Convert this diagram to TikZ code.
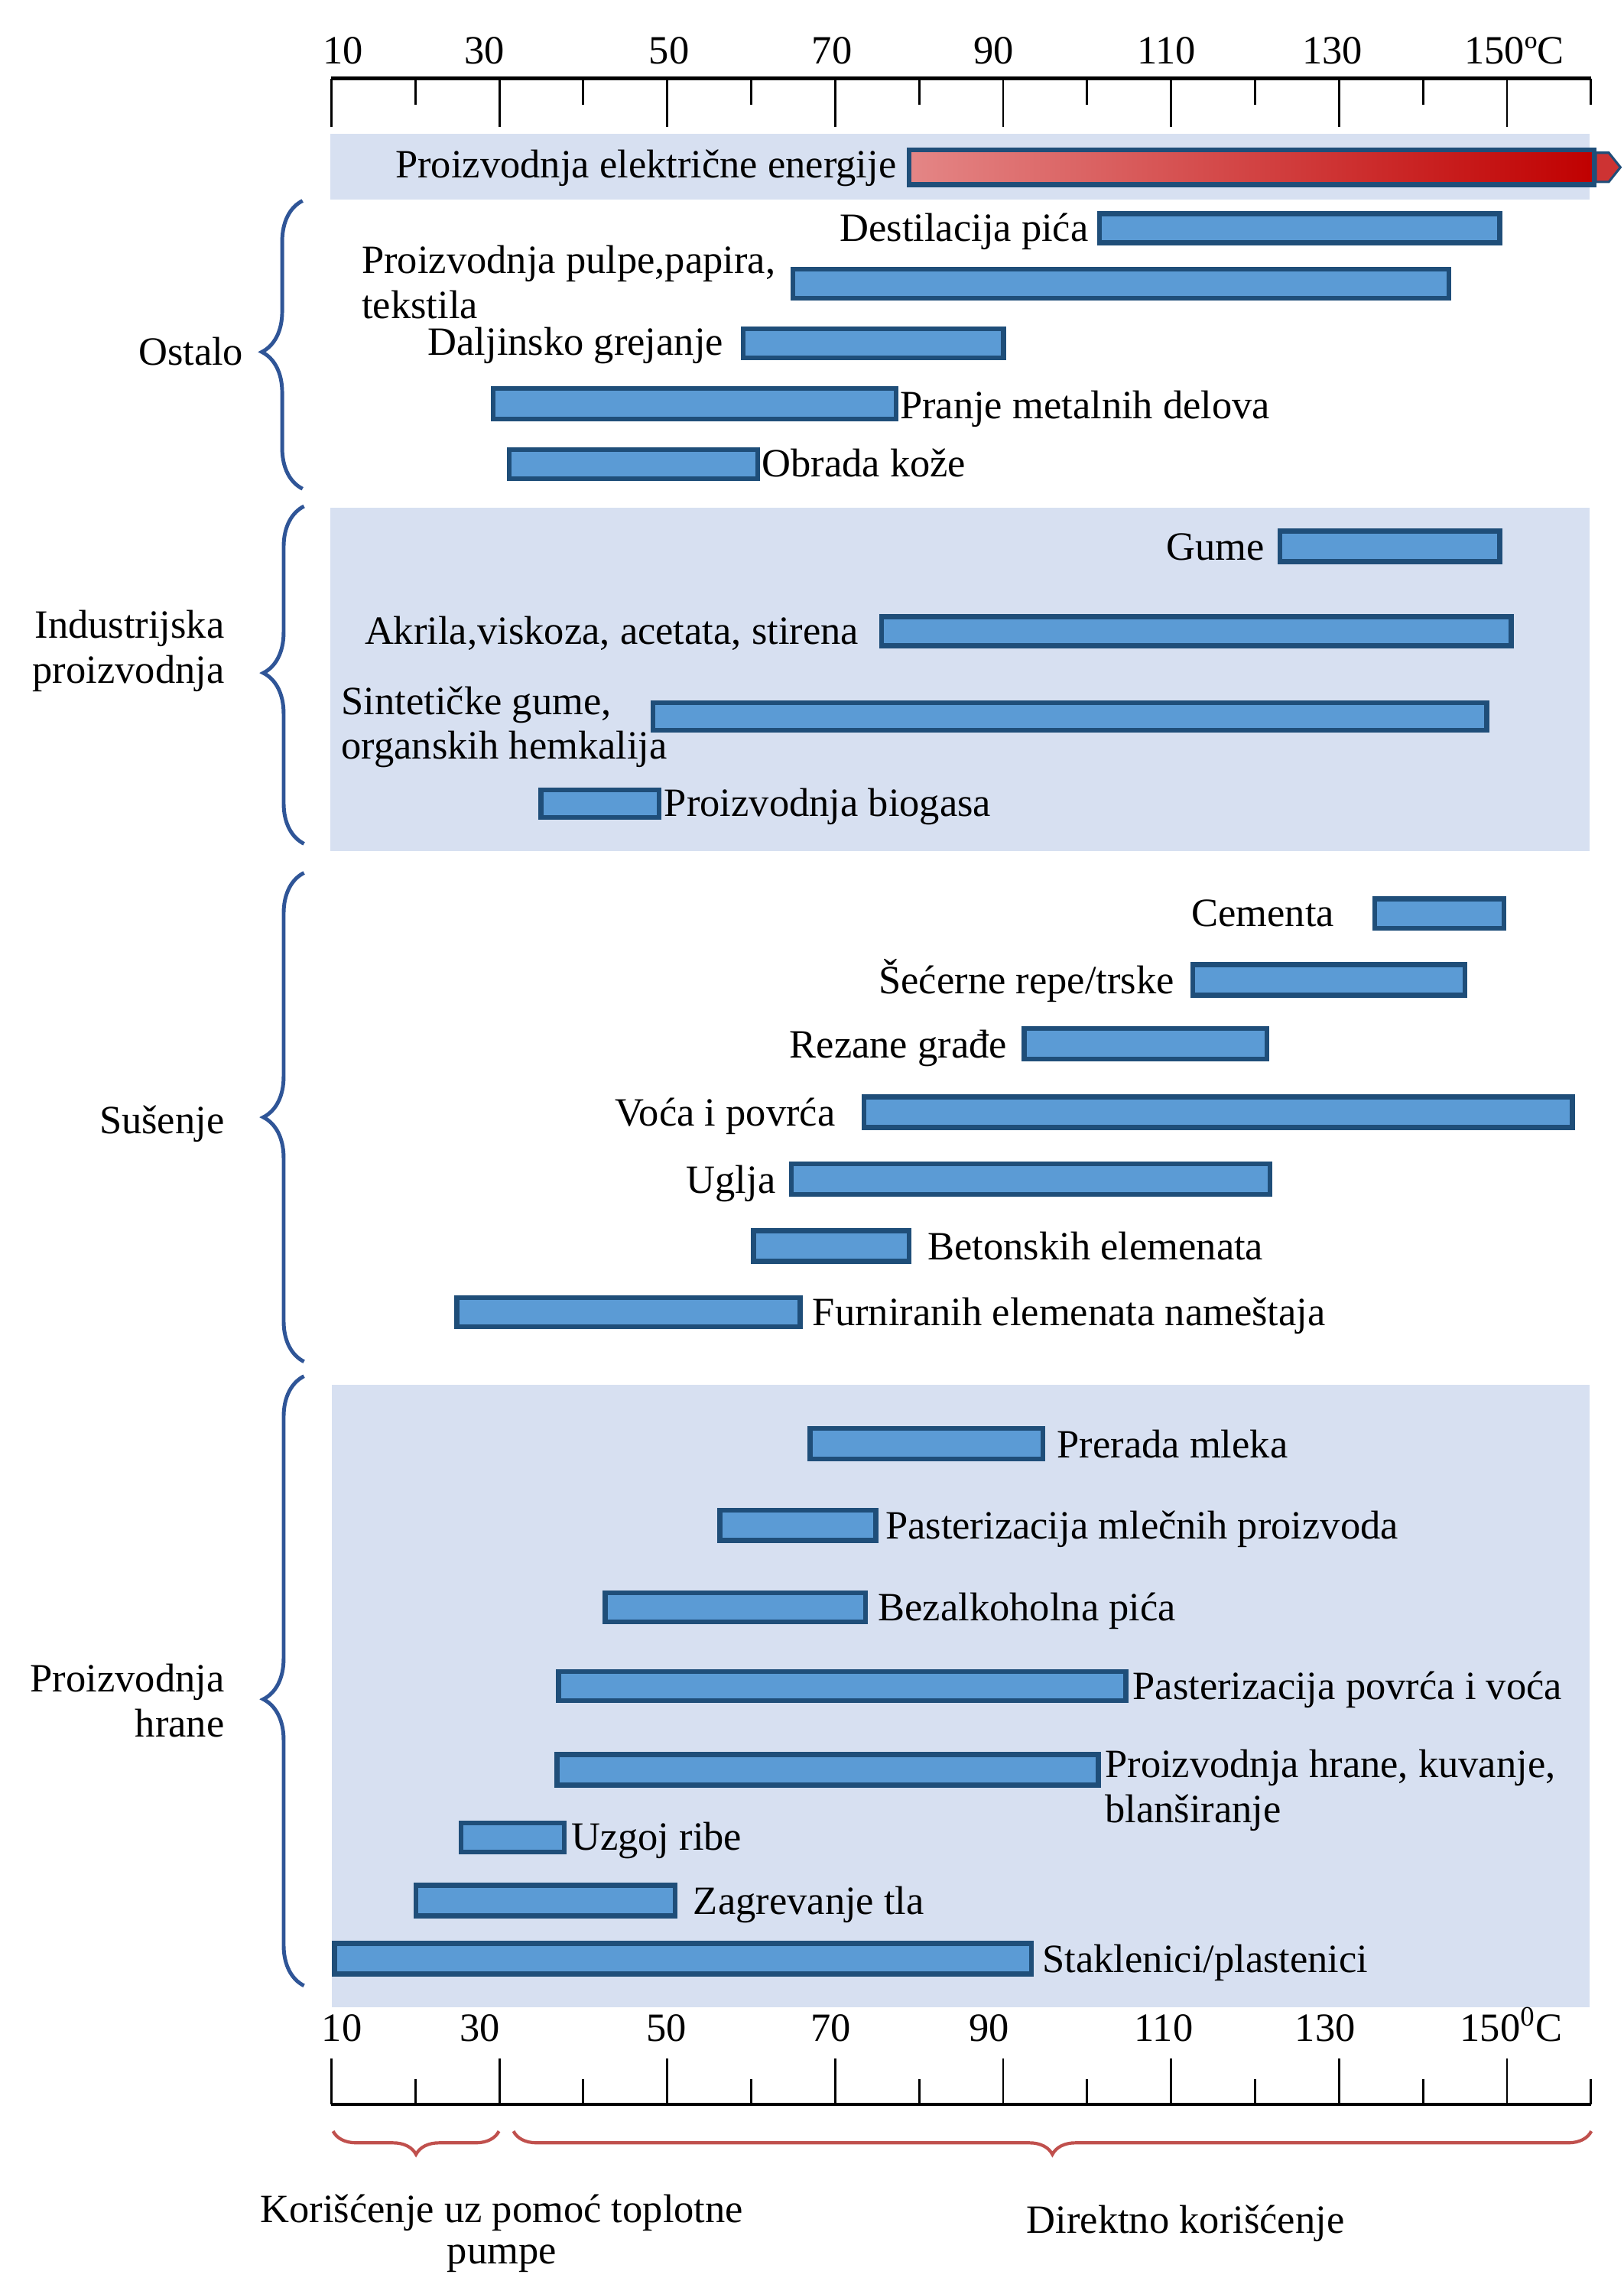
\documentclass[tikz,border=0pt]{standalone}
\usepackage{fontspec}
\setmainfont{Liberation Serif}
\usetikzlibrary{decorations.pathreplacing}

\definecolor{bandblue}{HTML}{D7E0F1}
\definecolor{barfill}{HTML}{5B9BD5}
\definecolor{barline}{HTML}{1F4E79}
\definecolor{bracecol}{HTML}{2F5597}
\definecolor{redbrace}{HTML}{C0504D}
\definecolor{hotlight}{HTML}{E48686}
\definecolor{hotdark}{HTML}{C00000}

\tikzset{every picture/.style={line width=0.75pt}}
\tikzset{
  bar/.style={draw=barline, fill=barfill, line width=1.7pt},
  band/.style={fill=bandblue, draw=none},
  lbl/.style={inner sep=0pt, font=\fontsize{13.8}{15.5}\selectfont},
  grpbrace/.style={draw=bracecol, line width=1.3pt, decorate,
    decoration={brace, amplitude=14pt, aspect=#1}},
  grpbrace/.default=0.5,
  usebrace/.style={draw=redbrace, line width=1.1pt, decorate,
    decoration={brace, amplitude=8pt}},
}

\begin{document}
\begin{tikzpicture}[x=0.5pt,y=0.5pt,yscale=-1,xscale=1]
\useasboundingbox (0,0) rectangle (1116,1568);

%Shape: Bands
\fill[band] (227,92) rectangle (1093,137);
\fill[band] (227,349) rectangle (1093,585);
\fill[band] (228,952) rectangle (1093,1380);

%Straight Lines: top axis
\draw[line width=1.2pt] (227.8,54) -- (1093.8,54);
\draw (227.8,54) -- (227.8,87) (285.5,54) -- (285.5,72) (343.3,54) -- (343.3,87) (401,54) -- (401,72)
      (458.7,54) -- (458.7,87) (516.5,54) -- (516.5,72) (574.2,54) -- (574.2,87) (631.9,54) -- (631.9,72)
      (689.6,54) -- (689.6,87) (747.4,54) -- (747.4,72) (805.1,54) -- (805.1,87) (862.8,54) -- (862.8,72)
      (920.6,54) -- (920.6,87) (978.3,54) -- (978.3,72) (1036,54) -- (1036,87) (1093.8,54) -- (1093.8,72);

% Text Node
\node[lbl, anchor=base] (t10) at (236,44) {10};
\node[lbl, anchor=base] (t30) at (333,44) {30};
\node[lbl, anchor=base] (t50) at (460,44) {50};
\node[lbl, anchor=base] (t70) at (572,44) {70};
\node[lbl, anchor=base] (t90) at (683,44) {90};
\node[lbl, anchor=base] (t110) at (802,44) {110};
\node[lbl, anchor=base] (t130) at (916,44) {130};
\node[lbl, anchor=base west] (t150) at (1006,44) {150ºC};

%Shape: red bar
\draw[draw=barline, line width=1.7pt, left color=hotlight, right color=hotdark] (625,103) rectangle (1096,127);
\draw[draw=barline, fill=hotdark!80!white, line width=0.8pt] (1097,105) -- (1106,105) -- (1114,115) -- (1106,125) -- (1097,125) -- cycle;
% Text Node
\node[lbl, anchor=base east] (struja) at (617,122) {Proizvodnja električne energije};

%Shape: Ostalo bars
\draw[bar] (756,147) rectangle (1031,167);
\draw[bar] (545,185) rectangle (996,205);
\draw[bar] (511,226) rectangle (690,246);
\draw[bar] (339,267) rectangle (616,288);
\draw[bar] (350,309) rectangle (521,329);
% Text Node
\node[lbl, anchor=base east] (destilacija) at (749,166) {Destilacija pića};
\node[lbl, anchor=north west, align=left] (pulpa) at (248,168) {Proizvodnja pulpe,papira,\\tekstila};
\node[lbl, anchor=base east] (daljinsko) at (498,244) {Daljinsko grejanje};
\node[lbl, anchor=base west] (pranje) at (618,288) {Pranje metalnih delova};
\node[lbl, anchor=base west] (koza) at (523,328) {Obrada kože};

%Shape: Industrijska bars
\draw[bar] (880,365) rectangle (1031,386);
\draw[bar] (606,424) rectangle (1039,444);
\draw[bar] (449,483) rectangle (1022,502);
\draw[bar] (372,543) rectangle (453,562);
% Text Node
\node[lbl, anchor=base east] (gume) at (870,385) {Gume};
\node[lbl, anchor=base east] (akrila) at (591,443) {Akrila,viskoza, acetata, stirena};
\node[lbl, anchor=north west, align=left] (sintet) at (234,471) {Sintetičke gume,\\organskih hemkalija};
\node[lbl, anchor=base west] (biogas) at (456,561) {Proizvodnja biogasa};

%Shape: Susenje bars
\draw[bar] (945,618) rectangle (1034,638);
\draw[bar] (820,663) rectangle (1007,684);
\draw[bar] (704,707) rectangle (871,728);
\draw[bar] (594,754) rectangle (1081,775);
\draw[bar] (544,800) rectangle (873,821);
\draw[bar] (518,846) rectangle (625,867);
\draw[bar] (314,892) rectangle (550,912);
% Text Node
\node[lbl, anchor=base east] (cement) at (918,637) {Cementa};
\node[lbl, anchor=base east] (repa) at (808,683) {Šećerne repe/trske};
\node[lbl, anchor=base east] (grada) at (693,727) {Rezane građe};
\node[lbl, anchor=base east] (voce) at (575,774) {Voća i povrća};
\node[lbl, anchor=base east] (ugalj) at (534,820) {Uglja};
\node[lbl, anchor=base west] (beton) at (637,866) {Betonskih elemenata};
\node[lbl, anchor=base west] (furnir) at (558,911) {Furniranih elemenata nameštaja};

%Shape: hrana bars
\draw[bar] (557,982) rectangle (717,1003);
\draw[bar] (495,1038) rectangle (602,1059);
\draw[bar] (416,1095) rectangle (595,1115);
\draw[bar] (384,1149) rectangle (774,1169);
\draw[bar] (383,1206) rectangle (755,1227);
\draw[bar] (317,1253) rectangle (388,1273);
\draw[bar] (286,1296) rectangle (464,1317);
\draw[bar] (230,1336) rectangle (709,1357);
% Text Node
\node[lbl, anchor=base west] (mleko) at (726,1002) {Prerada mleka};
\node[lbl, anchor=base west] (mlecni) at (608,1058) {Pasterizacija mlečnih proizvoda};
\node[lbl, anchor=base west] (sokovi) at (603,1114) {Bezalkoholna pića};
\node[lbl, anchor=base west] (povrce) at (778,1168) {Pasterizacija povrća i voća};
\node[lbl, anchor=north west, align=left] (kuvanje) at (759,1202) {Proizvodnja hrane, kuvanje,\\blanširanje};
\node[lbl, anchor=base west] (riba) at (392,1272) {Uzgoj ribe};
\node[lbl, anchor=base west] (tlo) at (476,1316) {Zagrevanje tla};
\node[lbl, anchor=base west] (staklenici) at (716,1356) {Staklenici/plastenici};

%Straight Lines: bottom axis
\draw[line width=1.2pt] (227.8,1446.5) -- (1093.8,1446.5);
\draw (227.8,1446.5) -- (227.8,1415) (285.5,1446.5) -- (285.5,1429) (343.3,1446.5) -- (343.3,1415) (401,1446.5) -- (401,1429)
      (458.7,1446.5) -- (458.7,1415) (516.5,1446.5) -- (516.5,1429) (574.2,1446.5) -- (574.2,1415) (631.9,1446.5) -- (631.9,1429)
      (689.6,1446.5) -- (689.6,1415) (747.4,1446.5) -- (747.4,1429) (805.1,1446.5) -- (805.1,1415) (862.8,1446.5) -- (862.8,1429)
      (920.6,1446.5) -- (920.6,1415) (978.3,1446.5) -- (978.3,1429) (1036,1446.5) -- (1036,1415) (1093.8,1446.5) -- (1093.8,1429);

% Text Node
\node[lbl, anchor=base] (b10) at (235,1403) {10};
\node[lbl, anchor=base] (b30) at (330,1403) {30};
\node[lbl, anchor=base] (b50) at (458,1403) {50};
\node[lbl, anchor=base] (b70) at (571,1403) {70};
\node[lbl, anchor=base] (b90) at (680,1403) {90};
\node[lbl, anchor=base] (b110) at (800,1403) {110};
\node[lbl, anchor=base] (b130) at (911,1403) {130};
\node[lbl, anchor=base west] (b150) at (1003,1403) {150\textsuperscript{0}C};

%Braces: groups
\draw[grpbrace=0.475] (208,336) -- (208,138);
\draw[grpbrace=0.506] (209,580) -- (209,348);
\draw[grpbrace=0.5] (209,936) -- (209,600);
\draw[grpbrace=0.47] (209,1365) -- (209,946);
% Text Node
\node[lbl, anchor=base east] (ostalo) at (168,251) {Ostalo};
\node[lbl, anchor=north east, align=right] (industrija) at (155,419) {Industrijska\\proizvodnja};
\node[lbl, anchor=base east] (susenje) at (155,779) {Sušenje};
\node[lbl, anchor=north east, align=right] (hrana) at (155,1143) {Proizvodnja\\hrane};

%Braces: use
\draw[usebrace] (343,1465) -- (229,1465);
\draw[usebrace] (1094,1465) -- (353,1465);
% Text Node
\node[lbl, anchor=north, align=center] (pumpa) at (345,1508) {Korišćenje uz pomoć toplotne\\[-1.5pt]pumpe};
\node[lbl, anchor=base] (direktno) at (815,1535) {Direktno korišćenje};

\end{tikzpicture}
\end{document}
